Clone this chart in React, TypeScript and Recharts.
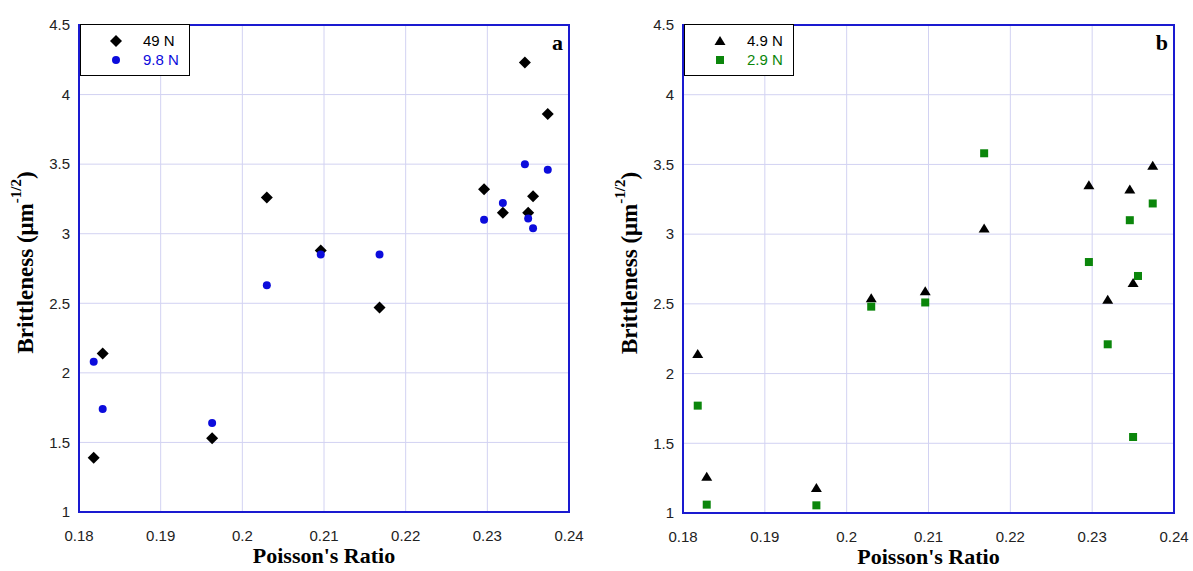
import React from "react";
import { ScatterChart, Scatter, XAxis, YAxis, CartesianGrid, ReferenceArea, Legend, Label } from "recharts";

// Poisson's ratio of the 12 glasses (shared by both panels)
const poissonRatio = [0.1818, 0.1829, 0.1963, 0.203, 0.2096, 0.2168, 0.2296, 0.2319, 0.2346, 0.235, 0.2356, 0.2374];

// panel a
const brittle49N = [1.39, 2.14, 1.53, 3.26, 2.88, 2.47, 3.32, 3.15, 4.23, 3.15, 3.27, 3.86];
const brittle9p8N = [2.08, 1.74, 1.64, 2.63, 2.85, 2.85, 3.1, 3.22, 3.5, 3.11, 3.04, 3.46];

// panel b
const brittle4p9N = [2.14, 1.26, 1.18, 2.54, 2.59, 3.04, 3.35, 2.53, 3.32, 2.65, null, 3.49];
const brittle2p9N = [1.77, 1.06, 1.055, 2.48, 2.51, 3.58, 2.8, 2.21, 3.1, 1.545, 2.7, 3.22];

const xTicks = [0.18, 0.19, 0.2, 0.21, 0.22, 0.23, 0.24];
const yTicks = [1, 1.5, 2, 2.5, 3, 3.5, 4, 4.5];

const BLUE = "#0c0cdc";
const GREEN = "#0b860b";
const FRAME = "#1a1ad0";
const GRID = "#d2d2f2";
const SANS = "'Liberation Sans', Arial, sans-serif";
const SERIF = "'Liberation Serif', 'Times New Roman', serif";

type Kind = "diamond" | "circle" | "triangle" | "square";

const toPoints = (ys: (number | null)[]) =>
  poissonRatio.map((x, i) => ({ x, y: ys[i] })).filter(p => p.y !== null);

function marker(kind: Kind, cx: number, cy: number, fill: string) {
  if (kind === "diamond")
    return <polygon points={`${cx},${cy - 6} ${cx + 6},${cy} ${cx},${cy + 6} ${cx - 6},${cy}`} fill={fill} />;
  if (kind === "circle") return <circle cx={cx} cy={cy} r={4} fill={fill} />;
  if (kind === "triangle")
    return <polygon points={`${cx},${cy - 5} ${cx + 5.5},${cy + 4} ${cx - 5.5},${cy + 4}`} fill={fill} />;
  return <rect x={cx - 4} y={cy - 4} width={8} height={8} fill={fill} />;
}

interface SeriesDef {
  name: string;
  values: (number | null)[];
  kind: Kind;
  color: string;
}

const tickStyle = { fontSize: 15, fontFamily: SANS, fill: "#222" };

function Panel({ series, letter, width, margin }: { series: SeriesDef[]; letter: string; width: number; margin: any }) {
  const legendContent = () => (
    <div style={{ width: 110, height: 52, border: "1px solid #000", boxSizing: "border-box", background: "#fff", paddingTop: 6 }}>
      {series.map(s => (
        <div key={s.name} style={{ display: "flex", alignItems: "center", height: 19 }}>
          <svg width={14} height={14} style={{ marginLeft: 28, marginRight: 20 }}>
            {marker(s.kind, 7, 7, s.color)}
          </svg>
          <span style={{ fontFamily: SANS, fontSize: 15, color: s.color, lineHeight: "19px" }}>{s.name}</span>
        </div>
      ))}
    </div>
  );

  return (
    <ScatterChart width={width} height={571} margin={margin}>
      <CartesianGrid stroke={GRID} strokeWidth={1} />
      <XAxis
        type="number"
        dataKey="x"
        domain={[0.18, 0.24]}
        ticks={xTicks}
        tickFormatter={(v: number) => String(Number(v.toFixed(2)))}
        allowDataOverflow
        height={30}
        tickLine={false}
        axisLine={false}
        tickMargin={12}
        tick={tickStyle}
      >
        <Label
          content={({ viewBox }: any) => (
            <text x={viewBox.x + viewBox.width / 2} y={viewBox.y + 51} textAnchor="middle"
              fontFamily={SERIF} fontWeight="bold" fontSize={22} fill="#000">Poisson's Ratio</text>
          )}
        />
      </XAxis>
      <YAxis
        type="number"
        dataKey="y"
        domain={[1, 4.5]}
        ticks={yTicks}
        allowDataOverflow
        width={60}
        tickLine={false}
        axisLine={false}
        tickMargin={3}
        tick={tickStyle}
      >
        <Label
          content={({ viewBox }: any) => {
            const cx = viewBox.x + viewBox.width - 54;
            const cy = viewBox.y + viewBox.height / 2 - 6;
            return (
              <text x={cx} y={cy} transform={`rotate(-90 ${cx} ${cy})`} textAnchor="middle" dominantBaseline="central"
                fontFamily={SERIF} fontWeight="bold" fontSize={23} fill="#000">
                Brittleness (μm<tspan fontSize={15} dy={-9}>-1/2</tspan><tspan dy={9}>)</tspan>
              </text>
            );
          }}
        />
      </YAxis>
      <ReferenceArea x1={0.18} x2={0.24} y1={1} y2={4.5} fill="none" stroke={FRAME} strokeWidth={2} ifOverflow="visible"
        label={({ viewBox }: any) => (
          <text x={viewBox.x + viewBox.width - 6} y={viewBox.y + 25} textAnchor="end"
            fontFamily={SERIF} fontWeight="bold" fontSize={22} fill="#000">{letter}</text>
        )}
      />
      {series.map(s => (
        <Scatter
          key={s.name}
          name={s.name}
          data={toPoints(s.values)}
          fill={s.color}
          isAnimationActive={false}
          shape={(p: any) => marker(s.kind, p.cx, p.cy, s.color)}
        />
      ))}
      <Legend layout="vertical" align="center" verticalAlign="middle" content={legendContent}
        wrapperStyle={{ left: margin.left + 61, top: 24, width: 110, height: 52 }} />
    </ScatterChart>
  );
}

export default function App() {
  return (
    <div style={{ position: "fixed", left: 0, top: 0, width: 1193, height: 571, background: "#fff", display: "flex" }}>
      <Panel
        letter="a"
        width={596}
        margin={{ top: 25, right: 27, bottom: 29, left: 19 }}
        series={[
          { name: "49 N", values: brittle49N, kind: "diamond", color: "#000" },
          { name: "9.8 N", values: brittle9p8N, kind: "circle", color: BLUE },
        ]}
      />
      <Panel
        letter="b"
        width={597}
        margin={{ top: 25, right: 19, bottom: 28, left: 27 }}
        series={[
          { name: "4.9 N", values: brittle4p9N, kind: "triangle", color: "#000" },
          { name: "2.9 N", values: brittle2p9N, kind: "square", color: GREEN },
        ]}
      />
    </div>
  );
}
